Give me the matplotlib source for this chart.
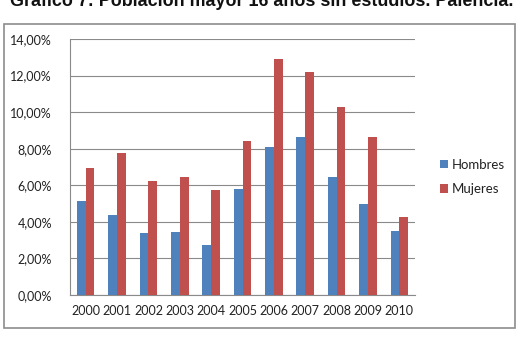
import matplotlib
matplotlib.use("Agg")
import matplotlib.pyplot as plt
from matplotlib.patches import Rectangle
from matplotlib.ticker import FuncFormatter
import numpy as np

years = ["2000", "2001", "2002", "2003", "2004", "2005",
         "2006", "2007", "2008", "2009", "2010"]
hombres = [5.15, 4.37, 3.37, 3.44, 2.73, 5.81, 8.07, 8.63, 6.46, 4.99, 3.48]
mujeres = [6.92, 7.74, 6.23, 6.43, 5.72, 8.43, 12.93, 12.19, 10.27, 8.63, 4.25]

W, H = 523, 337
fig = plt.figure(figsize=(W / 100, H / 100), dpi=100)

# outer chart frame
fig.patches.append(Rectangle((4 / W, 1 - 328 / H), 511 / W, 304 / H,
                             transform=fig.transFigure, fill=False,
                             edgecolor="#8c8c8c", linewidth=1.2))

fig.text(0.5, 1 - 6 / H, "Gráfico 7: Población mayor 16 años sin estudios. Palencia.",
         ha="center", va="baseline", fontsize=12.9, fontweight="bold",
         family="Liberation Sans", color="#111111")

ax = fig.add_axes([70 / W, 1 - 295 / H, 345 / W, 256 / H])
x = np.arange(len(years))
w = 0.28
ax.bar(x - w / 2, hombres, w, color="#4F81BD", label="Hombres", zorder=3)
ax.bar(x + w / 2, mujeres, w, color="#C0504D", label="Mujeres", zorder=3)

ax.set_xlim(-0.5, len(years) - 0.5)
ax.set_ylim(0, 14)
ax.set_yticks(np.arange(0, 15, 2))
ax.yaxis.set_major_formatter(FuncFormatter(lambda v, _: f"{v:.2f}%".replace(".", ",")))
ax.set_xticks(x)
ax.set_xticklabels(years)
ax.grid(axis="y", color="#8a8a8a", linewidth=0.8, zorder=0)
ax.tick_params(length=0, labelsize=9, colors="#222222", pad=7)
ax.tick_params(axis="y", pad=13)
for lab in ax.get_xticklabels() + ax.get_yticklabels():
    lab.set_family("Lato")
for s in ["top", "right"]:
    ax.spines[s].set_visible(False)
ax.spines["left"].set_color("#8a8a8a")
ax.spines["bottom"].set_color("#8a8a8a")
ax.spines["left"].set_linewidth(0.8)
ax.spines["bottom"].set_linewidth(0.8)

fig.legend(loc="center left", bbox_to_anchor=(428 / W, 1 - 177 / H), frameon=False,
           prop={"family": "Lato", "size": 9.5}, handlelength=0.6, handleheight=0.6,
           handletextpad=0.3, labelspacing=0.95, labelcolor="#222222")

fig.savefig("out.png", dpi=100)
